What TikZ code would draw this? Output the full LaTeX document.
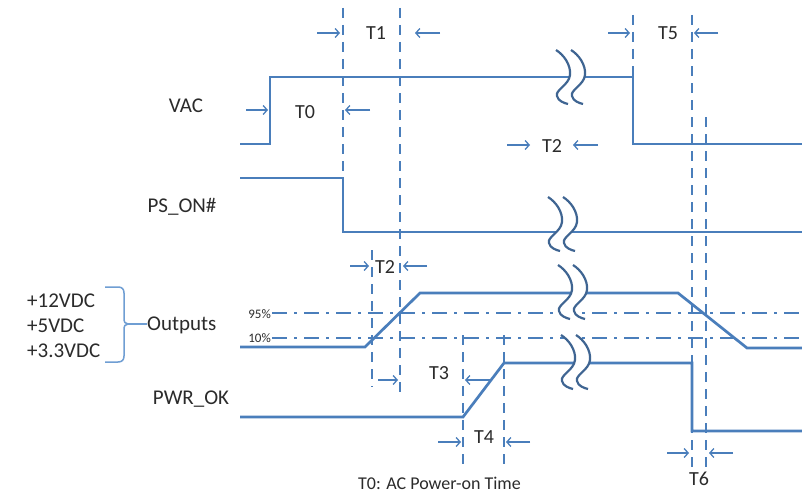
\documentclass[tikz,border=0pt]{standalone}
\usepackage{fontspec}
\setmainfont{Carlito}
\usetikzlibrary{arrows.meta}
\definecolor{sig}{HTML}{4A7EBB}
\definecolor{brkc}{HTML}{3F6592}
\definecolor{txt}{HTML}{2B2B2B}
\definecolor{bracec}{HTML}{6F9ED3}
\begin{document}
\begin{tikzpicture}[x=1pt,y=-1pt,
  sigline/.style={sig, line width=2.7pt, line join=miter},
  vdash/.style={sig, line width=2.4pt, dash pattern=on 10pt off 7pt},
  ddot/.style={sig, line width=2.2pt, dash pattern=on 15pt off 7pt on 3pt off 7pt},
  tarrow/.style={sig, line width=1.3pt, -{Straight Barb[length=4pt,width=9pt]}},
  brkline/.style={brkc, line width=2.2pt},
  bracel/.style={bracec, line width=1.5pt},
  lbl/.style={text=txt, font=\fontsize{21}{25}\selectfont, inner sep=0pt, anchor=base},
  tlbl/.style={text=txt, font=\fontsize{20}{24}\selectfont, inner sep=0pt, anchor=base},
  pct/.style={text=txt, font=\fontsize{13}{15}\selectfont, inner sep=0pt, anchor=base east},
  brkpic/.pic={
    \fill[white] (-7,-27) .. controls (1,-22) and (8,-12) .. (7,-2) .. controls (6,8) and (-8,13) .. (-6,19) .. controls (-5,24) and (1,26) .. (5,27) -- (20,27) .. controls (16,26) and (10,24) .. (9,19) .. controls (7,13) and (21,8) .. (22,-2) .. controls (23,-12) and (16,-22) .. (8,-27) -- cycle;
    \draw[brkline] (-7,-27) .. controls (1,-22) and (8,-12) .. (7,-2) .. controls (6,8) and (-8,13) .. (-6,19) .. controls (-5,24) and (1,26) .. (5,27);
    \draw[brkline] (8,-27) .. controls (16,-22) and (23,-12) .. (22,-2) .. controls (21,8) and (7,13) .. (9,19) .. controls (10,24) and (16,26) .. (20,27);
  }]
\clip (0,0) rectangle (802,495);
\fill[white] (0,0) rectangle (802,495);

% threshold lines
\draw[ddot] (272,313) -- (802,313);
\draw[ddot] (272,338) -- (802,338);
\node[pct] (p95) at (271,318) {95\%};
\node[pct] (p10) at (271,342) {10\%};

% dashed timing markers
\draw[vdash] (343,8) -- (343,178);
\draw[vdash] (400,8) -- (400,393);
\draw[vdash] (633,15) -- (633,77);
\draw[vdash] (692,15) -- (692,470);
\draw[vdash] (706,117) -- (706,470);
\draw[vdash] (372,250) -- (372,387);
\draw[vdash] (463,335) -- (463,467);
\draw[vdash] (504,335) -- (504,467);

% signals
\draw[sigline] (240,144) -- (270,144) -- (270,77) -- (633,77) -- (633,144) -- (804,144);
\draw[sigline] (240,178) -- (343,178) -- (343,232) -- (804,232);
\draw[sigline] (240,347) -- (365,347) -- (420,293) -- (678,293) -- (747,348) -- (804,348);
\draw[sigline] (240,417) -- (463,417) -- (504,363) -- (692,363) -- (692,431) -- (804,431);

% breaks
\pic at (563,77) {brkpic};
\pic at (555,224) {brkpic};
\pic at (565,292) {brkpic};
\pic at (568,362) {brkpic};

% signal labels
\node[lbl] (vac) at (186,112) {VAC};
\node[lbl] (pson) at (182,212) {PS\_ON\#};
\node[lbl, anchor=base west] (v12) at (27,307) {+12VDC};
\node[lbl, anchor=base west] (v5) at (27,332) {+5VDC};
\node[lbl, anchor=base west] (v33) at (27,357) {+3.3VDC};
\node[lbl, anchor=base west] (outs) at (147,330) {Outputs};
\node[lbl] (pwrok) at (191,404) {PWR\_OK};

% brace
\coordinate (btip) at (128,324);
\draw[bracel] (105,287) -- (118,287) .. controls (122,287) and (124,289) .. (124,293) -- (124,318) .. controls (124,322) and (125,324) .. (btip) .. controls (125,324) and (124,326) .. (124,330) -- (124,356) .. controls (124,360) and (122,362) .. (118,362) -- (105,362);
\draw[bracel] (btip) -- (outs.west |- btip);

% timing annotations
\node[tlbl] (t1) at (376,40) {T1};
\draw[tarrow] (317,33) -- (340,33);
\draw[tarrow] (440,33) -- (415,33);

\node[tlbl] (t0) at (305,118) {T0};
\draw[tarrow] (246,110) -- (268,110);
\draw[tarrow] (370,110) -- (345,110);

\node[tlbl] (t5) at (668,40) {T5};
\draw[tarrow] (608,33) -- (630,33);
\draw[tarrow] (718,33) -- (694,33);

\node[tlbl] (t2a) at (552,152) {T2};
\draw[tarrow] (507,145) -- (530,145);
\draw[tarrow] (598,145) -- (573,145);

\node[tlbl] (t2b) at (385,273) {T2};
\draw[tarrow] (350,266) -- (369,266);
\draw[tarrow] (427,266) -- (403,266);

\node[tlbl] (t3) at (439,379) {T3};
\draw[tarrow] (378,380) -- (398,380);
\draw[tarrow] (491,380) -- (465,380);

\node[tlbl] (t4) at (484,443) {T4};
\draw[tarrow] (438,442) -- (461,442);
\draw[tarrow] (530,442) -- (506,442);

\node[tlbl] (t6) at (699,485) {T6};
\draw[tarrow] (667,453) -- (689,453);
\draw[tarrow] (733,453) -- (709,453);

% legend
\node[text=txt, font=\fontsize{18}{22}\selectfont, inner sep=0pt, anchor=base west] (leg) at (358,489) {T0: AC Power-on Time};
\end{tikzpicture}
\end{document}
